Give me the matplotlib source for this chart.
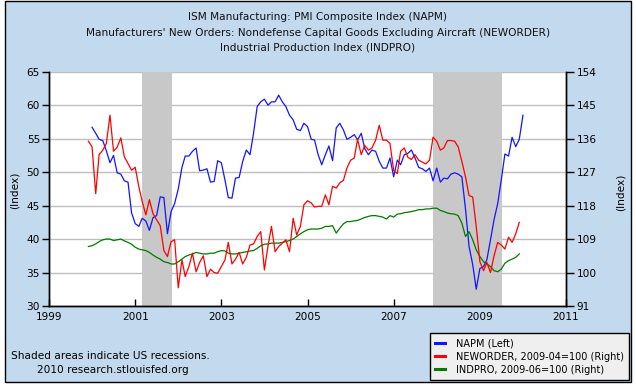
import matplotlib
matplotlib.use("Agg")
import matplotlib.pyplot as plt
import matplotlib.dates as mdates
from matplotlib.patches import Rectangle
from matplotlib.lines import Line2D
import pandas as pd

# ---------------- data ----------------
napm_start = "2000-01-01"
napm = [
    56.7, 55.8, 54.9, 54.7, 53.2, 51.4, 52.5, 49.9, 49.7, 48.7, 48.5, 43.9,
    42.3, 41.9, 43.1, 42.7, 41.3, 43.2, 43.5, 46.3, 46.2, 40.8, 44.1, 45.3,
    47.5, 50.7, 52.4, 52.4, 53.1, 53.6, 50.2, 50.3, 50.5, 48.5, 48.6, 51.7,
    51.4, 48.8, 46.2, 46.1, 49.1, 49.2, 51.6, 53.3, 52.6, 55.8, 59.8, 60.5,
    60.9, 60.0, 60.5, 60.5, 61.5, 60.5, 59.8, 58.5, 57.8, 56.4, 56.2, 57.3,
    56.8, 54.9, 54.8, 52.6, 51.1, 52.6, 53.9, 51.7, 56.6, 57.3, 56.3, 54.9,
    55.2, 55.6, 54.8, 55.8, 53.5, 52.6, 53.3, 53.1, 51.6, 50.6, 50.6, 52.1,
    49.3, 51.8, 51.1, 52.6, 52.8, 53.3, 52.1, 50.7, 50.5, 50.1, 50.6, 48.7,
    50.6, 48.5, 49.1, 49.0, 49.7, 49.9, 49.7, 49.3, 44.5, 38.9, 36.2, 32.5,
    35.6, 35.9, 36.9, 39.9, 42.9, 45.3, 48.8, 52.7, 52.4, 55.2, 53.8, 54.9,
    58.5,
]

right_start = "1999-12-01"
neworder = [
    135.3,
    133.8, 121.2, 131.7, 132.9, 134.7, 142.3, 132.6, 133.7, 136.2, 131.1, 129.3, 127.5,
    128.3, 123.0, 119.1, 115.5, 119.6, 115.8, 114.2, 112.6, 105.9, 104.3, 108.3, 108.8,
    95.9, 103.4, 98.9, 101.6, 105.2, 100.2, 102.7, 104.5, 98.9, 100.9, 100.0, 99.8,
    101.6, 103.4, 108.1, 102.3, 103.6, 105.4, 102.3, 104.1, 107.4, 107.7, 109.7, 111.0,
    100.7, 107.2, 112.4, 105.6, 107.0, 107.9, 108.8, 105.6, 114.6, 110.1, 112.4, 118.2,
    119.3, 118.7, 117.6, 117.8, 117.8, 120.9, 118.2, 123.2, 122.7, 124.1, 124.8, 128.1,
    130.2, 130.8, 135.8, 131.7, 134.2, 132.9, 133.5, 135.6, 139.6, 135.6, 135.6, 134.7,
    127.4, 126.6, 132.6, 133.5, 131.0, 130.4, 131.7, 130.2, 129.7, 129.2, 130.2, 136.4,
    135.3, 132.9, 133.5, 135.5, 135.5, 135.3, 133.8, 129.9, 125.7, 120.7, 120.3, 112.4,
    102.9, 100.5, 102.7, 100.0, 104.5, 108.1, 107.4, 106.3, 109.5, 108.1, 110.4, 113.5,
]
indpro = [
    107.0,
    107.2, 107.7, 108.3, 108.8, 109.0, 109.0, 108.6, 108.8, 109.0, 108.5, 108.1, 107.6,
    106.8, 106.3, 106.1, 105.9, 105.4, 104.7, 104.1, 103.6, 102.9, 102.7, 102.3, 102.3,
    102.9, 103.6, 104.3, 104.7, 105.0, 105.4, 105.2, 105.0, 105.0, 105.2, 105.2, 105.6,
    105.9, 105.8, 105.2, 105.0, 105.0, 105.2, 105.4, 105.6, 105.8, 105.9, 106.5, 107.2,
    107.6, 107.7, 107.9, 107.9, 107.9, 108.1, 108.3, 108.6, 109.0, 109.7, 110.4, 111.0,
    111.5, 111.7, 111.7, 111.7, 111.9, 112.4, 112.4, 112.6, 110.6, 111.9, 113.1, 113.7,
    113.7, 113.9, 114.0, 114.4, 114.8, 115.1, 115.3, 115.3, 115.1, 114.9, 114.4, 115.3,
    114.9, 115.7, 115.8, 116.1, 116.2, 116.4, 116.6, 116.9, 116.9, 117.1, 117.1, 117.3,
    117.3, 116.7, 116.4, 116.0, 115.8, 115.7, 115.3, 113.3, 109.7, 111.0, 108.8, 106.1,
    104.3, 102.9, 102.3, 101.6, 100.5, 100.2, 100.9, 102.5, 103.2, 103.6, 104.1, 105.0,
]

recessions = [("2001-03-01", "2001-11-08"), ("2007-12-01", "2009-07-08")]

title_lines = [
    "ISM Manufacturing: PMI Composite Index (NAPM)",
    "Manufacturers' New Orders: Nondefense Capital Goods Excluding Aircraft (NEWORDER)",
    "Industrial Production Index (INDPRO)",
]
legend_labels = ["NAPM (Left)", "NEWORDER, 2009-04=100 (Right)", "INDPRO, 2009-06=100 (Right)"]
left_ticks = [30, 35, 40, 45, 50, 55, 60, 65]
right_ticks = [91, 100, 109, 118, 127, 136, 145, 154]
x_tick_years = [1999, 2001, 2003, 2005, 2007, 2009, 2011]

# ---------------- figure ----------------
W, H = 636, 385
BG = "#C3D9ED"
fig = plt.figure(figsize=(W / 100, H / 100), dpi=100, facecolor="white")

def fx(px):
    return px / W

def fy(py):
    return 1 - py / H

fig.patches.append(Rectangle((fx(4.5), fy(381.5)), fx(631) - fx(4.5), fy(0.7) - fy(381.5),
                             transform=fig.transFigure, facecolor=BG, edgecolor="black",
                             linewidth=1.0, zorder=0))

L, R, T, B = 49, 566, 71.7, 306
ax = fig.add_axes([fx(L), fy(B), fx(R) - fx(L), fy(T) - fy(B)])
ax.set_facecolor("white")
ax2 = ax.twinx()

d_napm = pd.date_range(napm_start, periods=len(napm), freq="MS")
d_right = pd.date_range(right_start, periods=len(neworder), freq="MS")

for s, e in recessions:
    ax.axvspan(pd.Timestamp(s), pd.Timestamp(e), color="#C8C8C8", lw=0, zorder=1)

ax.plot(d_napm, napm, color="#1414FF", lw=0.9, zorder=3)
ax2.plot(d_right, neworder, color="#FF0000", lw=0.9, zorder=3)
ax2.plot(d_right, indpro, color="#007A00", lw=0.9, zorder=2)

ax.set_zorder(1)
ax2.set_zorder(2)
ax2.patch.set_visible(False)
ax.patch.set_visible(True)

ax.set_xlim(pd.Timestamp("1999-01-01"), pd.Timestamp("2011-01-01"))
ax.set_ylim(30, 65)
ax2.set_ylim(91, 154)
ax.set_yticks(left_ticks)
ax2.set_yticks(right_ticks)
ax.set_xticks([pd.Timestamp(f"{y}-01-01") for y in x_tick_years])
ax.xaxis.set_major_formatter(mdates.DateFormatter("%Y"))

for a in (ax, ax2):
    a.spines["top"].set_visible(False)
    for sp in ("left", "right", "bottom"):
        a.spines[sp].set_linewidth(1.0)
        a.spines[sp].set_color("black")

ax.yaxis.grid(True, color="#BEBEBE", lw=1.0, zorder=0)
ax.set_axisbelow(True)

fs = 7.6
ax.tick_params(axis="y", direction="out", length=5, width=1, pad=1.5, labelsize=fs, colors="black")
ax2.tick_params(axis="y", direction="out", length=6, width=1, pad=1.5, labelsize=fs, colors="black")
ax.tick_params(axis="x", direction="in", length=5, width=1, pad=4.5, labelsize=fs, colors="black")

fig.text(fx(15), fy(190), "(Index)", rotation=90, ha="center", va="center", fontsize=fs)
fig.text(fx(621), fy(192), "(Index)", rotation=90, ha="center", va="center", fontsize=fs)

for i, t in enumerate(title_lines):
    fig.text(0.5, fy(17 + 15.5 * i), t, ha="center", va="center", fontsize=fs, color="#111111")

fig.text(fx(11), fy(356), "Shaded areas indicate US recessions.", ha="left", va="center", fontsize=fs)
fig.text(fx(37), fy(370), "2010 research.stlouisfed.org", ha="left", va="center", fontsize=fs)

handles = [Line2D([], [], color=c, lw=2.2) for c in ("#1414FF", "#FF0000", "#007A00")]
leg = fig.legend(handles, legend_labels, loc="lower right", bbox_to_anchor=(fx(629), fy(380)),
                 bbox_transform=fig.transFigure, fontsize=7, frameon=True, fancybox=False,
                 edgecolor="black", facecolor="#EFEFEF", framealpha=1, handlelength=1.0,
                 handletextpad=1.1, labelspacing=0.32, borderpad=0.55, borderaxespad=0)
leg.get_frame().set_linewidth(1.0)

fig.savefig("out.png", dpi=100, facecolor="white")
